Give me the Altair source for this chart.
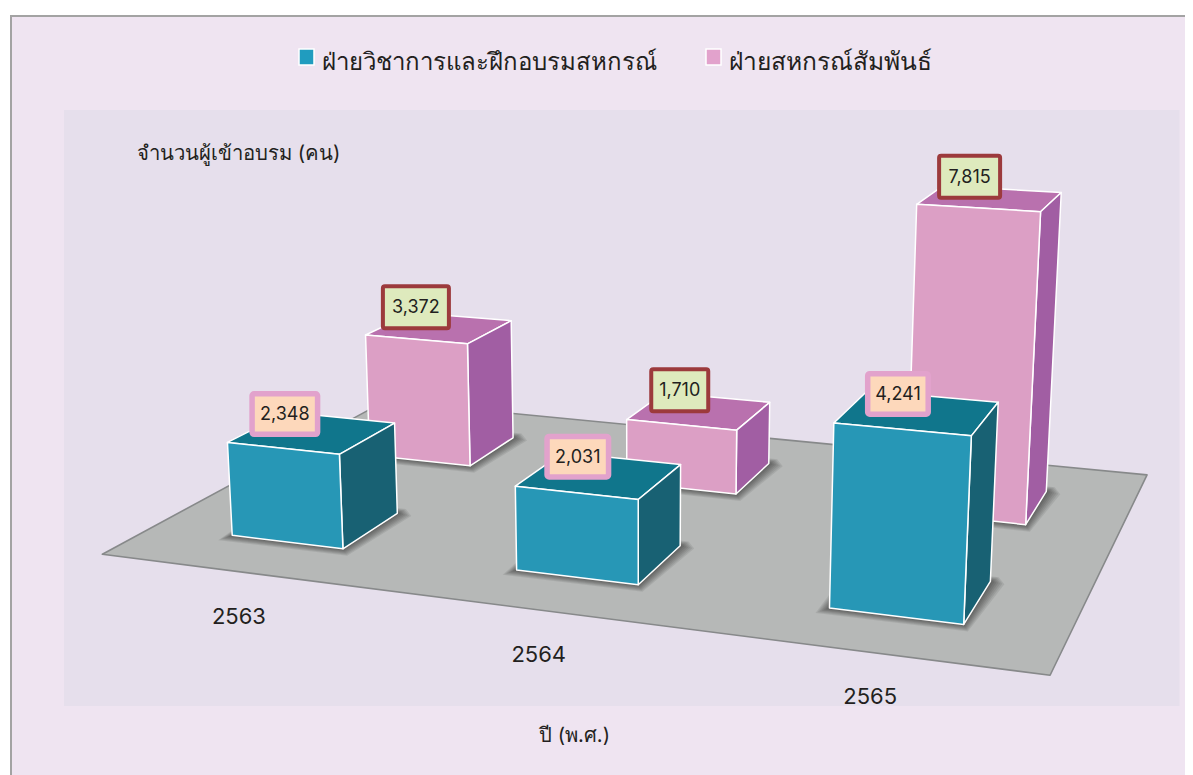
import altair as alt
import pandas as pd

# ---- data ----
years = ["2563", "2564", "2565"]
series_names = ["ฝ่ายวิชาการและฝึกอบรมสหกรณ์", "ฝ่ายสหกรณ์สัมพันธ์"]
academic = [2348, 2031, 4241]
relations = [3372, 1710, 7815]
y_title = "จำนวนผู้เข้าอบรม (คน)"
x_title = "ปี (พ.ศ.)"

# ---- camera of the 3-D scene: (along years, value/5000, depth, 1) -> page pixels ----
CAM = [[801.2535, -16.0514, 383.3786, 102.3750],
       [26.8209, -214.1489, -48.2375, 554.2577],
       [-0.139474, -0.024997, 0.261483, 1.0]]
U0, DU, BAR_W = 0.16358, 0.33430, 0.13387
V0, DV, BAR_D = 0.25070, 0.49181, 0.19607


def project(u, v, value=0.0):
    q = (u, value / 5000.0, v, 1.0)
    a, b, c = [sum(m * t for m, t in zip(row, q)) for row in CAM]
    return a / c, b / c


FONT = "Inter"
sx = alt.Scale(domain=[8, 1185], range=[0, 1177], nice=False, zero=False)
sy = alt.Scale(domain=[775, 8], range=[767, 0], nice=False, zero=False)
X = alt.X("x:Q", scale=sx, axis=None)
Y = alt.Y("y:Q", scale=sy, axis=None)
layers = []


def poly(points, **style):
    df = pd.DataFrame({"x": [p[0] for p in points], "y": [p[1] for p in points],
                       "k": list(range(len(points)))})
    layers.append(alt.Chart(df).mark_line(interpolate="linear-closed", strokeJoin="round", **style)
                  .encode(x=X, y=Y, order=alt.Order("k:Q")))


def box(x0, x1, y0, y1, **style):
    df = pd.DataFrame({"x": [x0], "x2": [x1], "y": [y0], "y2": [y1]})
    layers.append(alt.Chart(df).mark_rect(**style).encode(x=X, x2="x2:Q", y=Y, y2="y2:Q"))


def label(text, x, y, size, color="#231f20", align="center", font=FONT):
    df = pd.DataFrame({"x": [x], "y": [y], "t": [text]})
    layers.append(alt.Chart(df).mark_text(fontSize=size, font=font, color=color, align=align,
                                          baseline="middle")
                  .encode(x=X, y=Y, text="t:N"))


def shifted(p, dx, dy):
    return p[0] + dx, p[1] + dy


# page furniture
box(12, 1185, 17, 775, color="#efe4f1")
box(10, 12, 15, 775, color="#a3a3a3")
box(10, 1185, 15, 17, color="#a3a3a3")
box(64, 1179.5, 110, 706, color="#e6dfec")

# floor
poly([project(0, 0), project(1, 0), project(1, 1), project(0, 1)],
     fill="#b6b8b7", stroke="#87898a", strokeWidth=1.6)

TEAL = dict(front="#2797b6", top="#10768c", side="#186173")
PINK = dict(front="#dc9fc5", top="#b971ae", side="#a15ea3")
bars = []
for s, (vals, col) in enumerate(((academic, TEAL), (relations, PINK))):
    for i, val in enumerate(vals):
        bars.append((s, i, val, col))

# soft shadows on the floor
for s, i, val, col in bars:
    ul = U0 + DU * i - BAR_W / 2
    ur = ul + BAR_W
    vf = V0 + DV * s - BAR_D / 2
    vb = vf + BAR_D
    for n in range(7, 0, -1):
        poly([shifted(project(ul, vf), -2 * n, 0.7 * n),
              shifted(project(ur, vf), 0.6 * n, 1.0 * n),
              shifted(project(ur, vb), 2 * n, 0.4 * n),
              shifted(project(ur, vb), 1.2 * n, -0.6 * n),
              shifted(project(ul, vb), -n, -n)],
             fill="#000000", fillOpacity=0.08, strokeOpacity=0, strokeWidth=0, stroke="#000000")

# bars, back row first
WHITE = dict(stroke="#ffffff", strokeWidth=1.5)
for s, i, val, col in sorted(bars, key=lambda b: (-b[0], b[1])):
    ul = U0 + DU * i - BAR_W / 2
    ur = ul + BAR_W
    vf = V0 + DV * s - BAR_D / 2
    vb = vf + BAR_D
    poly([project(ul, vf, val), project(ur, vf, val), project(ur, vb, val), project(ul, vb, val)],
         fill=col["top"], **WHITE)
    poly([project(ur, vf), project(ur, vb), project(ur, vb, val), project(ur, vf, val)],
         fill=col["side"], **WHITE)
    poly([project(ul, vf), project(ur, vf), project(ur, vf, val), project(ul, vf, val)],
         fill=col["front"], **WHITE)

# value labels
BOX_W = {(0, 0): 71, (0, 1): 67, (0, 2): 66, (1, 0): 70, (1, 1): 61, (1, 2): 65}
BOX_NUDGE = {(0, 0): (-7, 2), (0, 1): (-1, 2), (0, 2): (1, 2),
             (1, 0): (-3, 0), (1, 1): (1, 0), (1, 2): (0, -1)}
BOX_STYLE = {0: dict(fill="#fdd8bb", stroke="#e2a2cc", strokeWidth=5.5),
             1: dict(fill="#deeabd", stroke="#9c3a3c", strokeWidth=4)}
for s, i, val, col in bars:
    uc, vc = U0 + DU * i, V0 + DV * s
    cx, cy = project(uc, vc, val)
    nx, ny = BOX_NUDGE[(s, i)]
    cx, cy = cx - 20.5 + nx, cy - 20.5 + ny
    sw = BOX_STYLE[s]["strokeWidth"]
    hw, hh = (BOX_W[(s, i)] - sw) / 2, (46 - sw) / 2
    box(cx - hw, cx + hw, cy - hh, cy + hh, cornerRadius=2, **BOX_STYLE[s])
    label(f"{val:,}", cx, cy + 1, 18)

# year labels, below the floor's front edge
for i, yr in enumerate(years):
    px, py = project(U0 + DU * i, 0)
    label(yr, px, py + 45, 22)

# axis titles
label(y_title, 137, 154, 20.3, align="left")
label(x_title, 574.5, 736, 20.2)

# legend
for name, col, x0, fs in zip(series_names, ("#209cbf", "#e2a2cc"), (299, 706), (24, 24.6)):
    box(x0, x0 + 15, 49, 65, fill=col, stroke="#ffffff", strokeWidth=1.5)
    label(name, x0 + 23, 62.5, fs, align="left")

chart = alt.layer(*layers).properties(
    width=1177, height=767, padding=0, background="#ffffff",
    autosize=alt.AutoSizeParams(type="none"),
).configure_view(stroke=None)

chart.save("out.html", embed_options={"renderer": "svg", "actions": False})
